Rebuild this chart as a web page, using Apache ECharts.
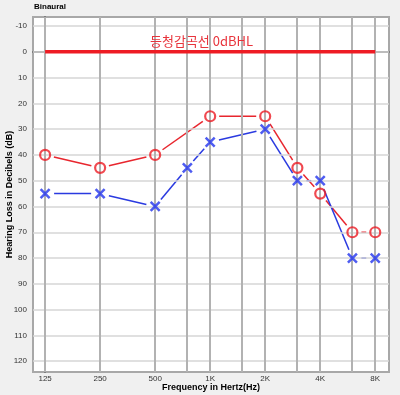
<!DOCTYPE html>
<html><head><meta charset="utf-8">
<script src="https://cdn.jsdelivr.net/npm/echarts@6/dist/echarts.min.js"></script>
<style>html,body{margin:0;padding:0;background:#f0f0f0}#c{width:400px;height:395px}</style>
</head><body><div id="c"></div>
<script>
// Frequencies (Hz) and tick labels
const tickFreqs = [125, 250, 500, 1000, 2000, 4000, 8000];
const tickLabels = ['125', '250', '500', '1K', '2K', '4K', '8K'];
const gridFreqs = [125, 250, 500, 750, 1000, 1500, 2000, 3000, 4000, 6000, 8000];
const dbTicks = [-10, 0, 10, 20, 30, 40, 50, 60, 70, 80, 90, 100, 110, 120];
// Right ear (O, red)
const redFreqs = [125, 250, 500, 1000, 2000, 3000, 4000, 6000, 8000];
const redDb = [40, 45, 40, 25, 25, 45, 55, 70, 70];
// Left ear (X, blue)
const blueFreqs = [125, 250, 500, 750, 1000, 2000, 3000, 4000, 6000, 8000];
const blueDb = [55, 55, 60, 45, 35, 30, 50, 50, 80, 80];
// Reference line
const refFreqs = [125, 8000];
const refDb = [0, 0];
const refText = '등청감곡선 0dBHL';

const oct = f => Math.log2(f / 125);
const pts = (fs, ds) => fs.map((f, i) => [oct(f), ds[i]]);
const redPts = pts(redFreqs, redDb);
const bluePts = pts(blueFreqs, blueDb);
const labelMap = {};
tickFreqs.forEach((f, i) => labelMap[oct(f).toFixed(4)] = tickLabels[i]);

function gapLine(data, color, width, gap) {
  return {
    type: 'custom', z: 3, silent: true,
    data: data,
    renderItem: function (params, api) {
      const i = params.dataIndex;
      if (i === 0) return null;
      const a = api.coord(data[i - 1]);
      const b = api.coord(data[i]);
      const dx = b[0] - a[0], dy = b[1] - a[1];
      const len = Math.sqrt(dx * dx + dy * dy);
      if (len <= 2 * gap) return null;
      const ux = dx / len, uy = dy / len;
      return {
        type: 'line',
        shape: { x1: a[0] + ux * gap, y1: a[1] + uy * gap, x2: b[0] - ux * gap, y2: b[1] - uy * gap },
        style: { stroke: color, lineWidth: width }
      };
    }
  };
}

const chart = echarts.init(document.getElementById('c'));
chart.setOption({
  backgroundColor: '#f0f0f0',
  animation: false,
  textStyle: { fontFamily: 'Liberation Sans, Arial, sans-serif' },
  grid: { left: 33, right: 11, top: 17, bottom: 23, containLabel: false, outerBoundsMode: 'none', show: true, backgroundColor: '#ffffff', borderColor: '#a8a8a8', borderWidth: 2 },
  graphic: [
    { type: 'text', left: 34, top: 3, style: { text: 'Binaural', font: 'bold 8px Liberation Sans, Arial', fill: '#000' } },
    { type: 'text', left: 150, top: 35, z: 10, style: { text: refText, font: '13px "Noto Sans CJK KR", sans-serif', fill: '#e8343c' } }
  ],
  xAxis: {
    type: 'value', min: -0.22, max: 6.25,
    name: 'Frequency in Hertz(Hz)', nameLocation: 'middle', nameGap: 11, nameMoveOverlap: false,
    nameTextStyle: { fontSize: 9, fontWeight: 'bold', color: '#000' },
    axisLine: { show: true, lineStyle: { color: '#707070', width: 2 } },
    axisTick: { show: false },
    splitLine: { show: false },
    axisLabel: {
      customValues: tickFreqs.map(oct), fontSize: 8, color: '#333', margin: 3,
      formatter: v => labelMap[v.toFixed(4)] || ''
    }
  },
  yAxis: {
    type: 'value', inverse: true, min: -13.5, max: 124.2,
    name: 'Hearing Loss in Decibels (dB)', nameLocation: 'middle', nameGap: 19, nameMoveOverlap: false,
    nameTextStyle: { fontSize: 9, fontWeight: 'bold', color: '#000' },
    axisLine: { show: true, lineStyle: { color: '#707070', width: 2 } },
    axisTick: { show: false },
    splitLine: { show: false },
    axisLabel: { customValues: dbTicks, fontSize: 8, color: '#333', margin: 6 }
  },
  series: [
    {
      type: 'line', data: [], z: 1, silent: true,
      markLine: {
        silent: true, symbol: 'none', label: { show: false }, animation: false,
        data: dbTicks.map(d => ({ yAxis: d, lineStyle: { color: '#d6d6d6', width: 1.5, type: 'solid' } }))
          .concat(gridFreqs.map(f => ({ xAxis: oct(f), lineStyle: { color: '#b2b2b2', width: 2, type: 'solid' } })))
      }
    },
    {
      type: 'line', data: pts(refFreqs, refDb), symbol: 'none', z: 6, silent: true,
      lineStyle: { color: '#ee1c24', width: 3.5, opacity: 1 }
    },
    gapLine(redPts, '#e8262e', 1.5, 9),
    gapLine(bluePts, '#2a3ae0', 1.5, 9),
    {
      type: 'scatter', data: redPts, symbol: 'circle', symbolSize: 10, z: 5, silent: true,
      itemStyle: { color: 'rgba(255,255,255,0)', borderColor: '#ec1c24', borderWidth: 2.2 }
    },
    {
      type: 'scatter', data: bluePts, symbol: 'path://M0,0L10,10M10,0L0,10', symbolSize: 9, z: 5, silent: true,
      itemStyle: { color: 'none', borderColor: '#2233ee', borderWidth: 2.5 }
    }
  ]
});
</script></body></html>
